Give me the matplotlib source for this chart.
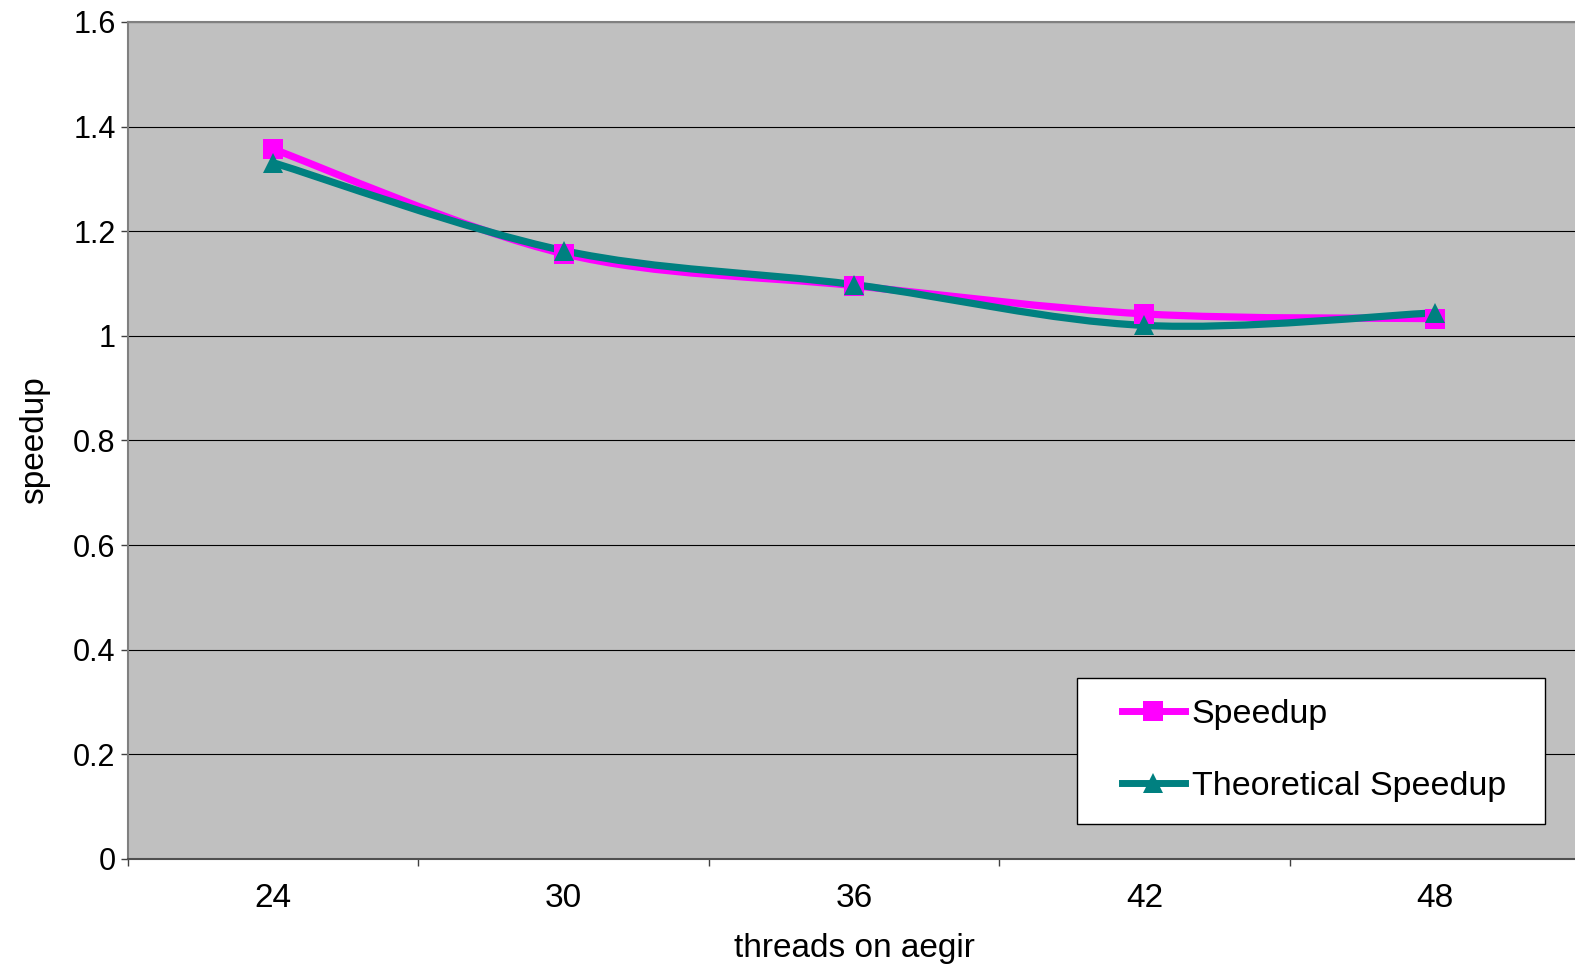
import numpy as np
import matplotlib
matplotlib.use('Agg')
import matplotlib.pyplot as plt
from matplotlib.path import Path
from matplotlib.patches import PathPatch, Rectangle
from matplotlib.lines import Line2D

plt.rcParams['font.family'] = ['Liberation Sans', 'DejaVu Sans']

# data
threads = ['24', '30', '36', '42', '48']
speedup = [1.357, 1.157, 1.096, 1.042, 1.033]
theoretical = [1.331, 1.163, 1.098, 1.020, 1.044]
y_ticks = [0, 0.2, 0.4, 0.6, 0.8, 1.0, 1.2, 1.4, 1.6]
y_tick_labels = ['0', '0.2', '0.4', '0.6', '0.8', '1', '1.2', '1.4', '1.6']

MAGENTA = '#FF00FF'
TEAL = '#008080'


def smooth_path(xs, ys):
    # Excel style smoothed line: cubic bezier through every point
    pts = np.column_stack([xs, ys]).astype(float)
    n = len(pts)
    verts = [pts[0]]
    codes = [Path.MOVETO]
    for i in range(n - 1):
        p0 = pts[max(i - 1, 0)]
        p1 = pts[i]
        p2 = pts[i + 1]
        p3 = pts[min(i + 2, n - 1)]
        c1 = p1 + (p2 - p0) / 6.0
        c2 = p2 - (p3 - p1) / 6.0
        verts += [c1, c2, p2]
        codes += [Path.CURVE4] * 3
    return Path(verts, codes)


fig = plt.figure(figsize=(15.75, 9.67), dpi=100)
ax = fig.add_axes([128 / 1575, 1 - 859 / 967, 1452 / 1575, 837 / 967])
ax.set_facecolor('#C0C0C0')

x = np.arange(len(threads))

series = [(speedup, MAGENTA, 's', 14.5, 'Speedup'),
          (theoretical, TEAL, '^', 15, 'Theoretical Speedup')]
handles = []
for vals, color, marker, ms, label in series:
    patch = PathPatch(smooth_path(x, vals), facecolor='none', edgecolor=color,
                      lw=5.2, capstyle='round', joinstyle='round', zorder=3)
    ax.add_patch(patch)
    ax.plot(x, vals, linestyle='none', marker=marker, markersize=ms,
            color=color, markeredgewidth=0, zorder=4)
    handles.append(Line2D([], [], color=color, lw=5, marker=marker,
                          markersize=ms * 0.95, markeredgewidth=0, label=label))

ax.set_xlim(-0.5, len(threads) - 0.5)
ax.set_ylim(0, 1.6)

# gridlines
ax.set_yticks(y_ticks)
ax.set_yticklabels(y_tick_labels, fontsize=22)
ax.yaxis.grid(True, color='black', lw=0.8)
ax.set_axisbelow(True)
ax.tick_params(axis='y', direction='out', length=5, width=1, color='#404040', pad=4)

ax.set_xticks(x)
ax.set_xticklabels(threads, fontsize=24)
ax.set_xticks(np.arange(len(threads) + 1) - 0.5, minor=True)
ax.tick_params(axis='x', which='major', length=0, pad=17)
ax.tick_params(axis='x', which='minor', direction='out', length=5, width=1, color='#404040')

for side in ['top', 'left']:
    ax.spines[side].set_color('#808080')
    ax.spines[side].set_linewidth(1.5)
ax.spines['bottom'].set_color('#505050')
ax.spines['bottom'].set_linewidth(1.5)
ax.spines['right'].set_visible(False)

ax.set_xlabel('threads on aegir', fontsize=24)
ax.xaxis.set_label_coords(0.5, -0.088)
ax.set_ylabel('speedup', fontsize=24)
ax.yaxis.set_label_coords(-0.054, 0.5)

# legend box
box = Rectangle((1077 / 1575, 1 - 824 / 967), 468 / 1575, 146 / 967,
                transform=fig.transFigure, facecolor='white', edgecolor='black',
                lw=1, zorder=5)
fig.patches.append(box)
leg = fig.legend(handles=handles, loc='upper left', frameon=False,
                 bbox_to_anchor=(1122 / 1575, 1 - 699 / 967),
                 bbox_transform=fig.transFigure, fontsize=24.5, borderpad=0,
                 borderaxespad=0, handlelength=1.85, handletextpad=0.2,
                 labelspacing=1.2)
leg.set_zorder(6)

fig.savefig('out.png', dpi=100)
